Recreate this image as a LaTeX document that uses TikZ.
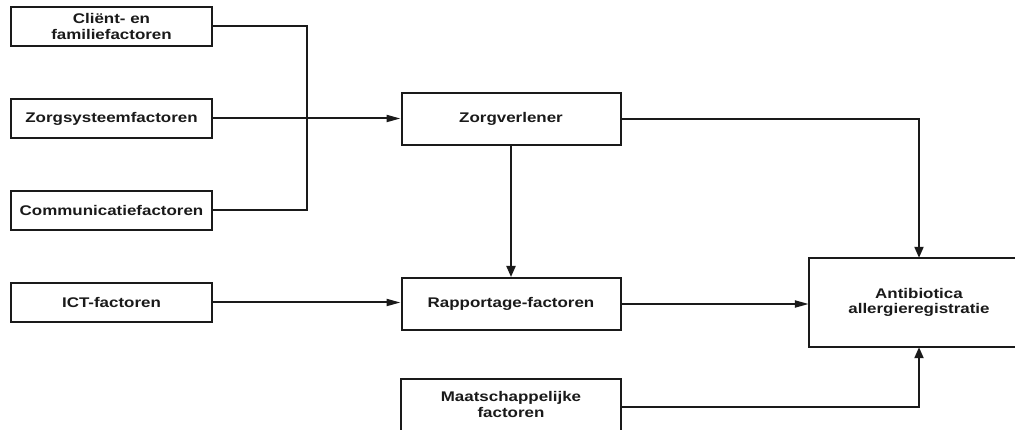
\documentclass[tikz,border=0pt]{standalone}
\usepackage{fontspec}
\newfontfamily\boxfont[FakeStretch=1.21]{Liberation Sans}
\usetikzlibrary{arrows.meta}
\definecolor{ink}{HTML}{1A1A1A}
\begin{document}
\begin{tikzpicture}[x=1pt,y=-1pt,
  plain/.style={rectangle,align=center,text=ink,
    font=\boxfont\bfseries\fontsize{14}{15.5}\selectfont,inner sep=0pt},
  box/.style={plain,draw=ink,line width=2pt},
  smallbox/.style={box,minimum width=201pt,minimum height=39pt},
  midbox/.style={box,minimum width=219pt,minimum height=52pt},
  conn/.style={draw=ink,line width=2pt},
  harrow/.style={conn,-{Triangle[length=14pt,width=7pt]}},
  varrow/.style={conn,-{Triangle[length=11pt,width=9pt]}}]
\useasboundingbox (0,0) rectangle (1015,430);
\fill[white] (0,0) rectangle (1015,430);
\coordinate (rt) at (1015,0);
\coordinate (bt) at (0,430);
\node[smallbox] (client) at (111.5,26.5) {Cliënt- en\\familiefactoren};
\node[smallbox] (zsys) at (111.5,118.5) {Zorgsysteemfactoren};
\node[smallbox] (comm) at (111.5,210.5) {Communicatiefactoren};
\node[smallbox] (ict) at (111.5,302.5) {ICT-factoren};
\node[midbox] (zorgv) at (511,119) {Zorgverlener};
\node[midbox] (rapp) at (511,304) {Rapportage-factoren};
\node[plain,minimum width=219pt,minimum height=56pt,text depth=5pt] (maat) at (511,407) {Maatschappelijke\\factoren};
\draw[conn] (maat.north west |- bt) -- (maat.north west) -- (maat.north east) -- (maat.north east |- bt);
\node[plain,minimum width=220pt,minimum height=89pt] (antib) at (919,302.5) {Antibiotica\\allergieregistratie};
\draw[conn] (antib.north west -| rt) -- (antib.north west) -- (antib.south west) -- (antib.south west -| rt);
\coordinate (j) at (307,119);
\draw[conn] (client.east) -| (j) |- (comm.east);
\draw[harrow] (zsys.east) -- (zorgv.west |- zsys.east);
\draw[varrow] (zorgv.south) -- (rapp.north);
\draw[harrow] (ict.east) -- (rapp.west |- ict.east);
\draw[harrow] (rapp.east) -- (antib.west |- rapp.east);
\draw[varrow] (zorgv.east) -| (antib.north);
\draw[varrow] (maat.east) -| (antib.south);
\end{tikzpicture}
\end{document}
